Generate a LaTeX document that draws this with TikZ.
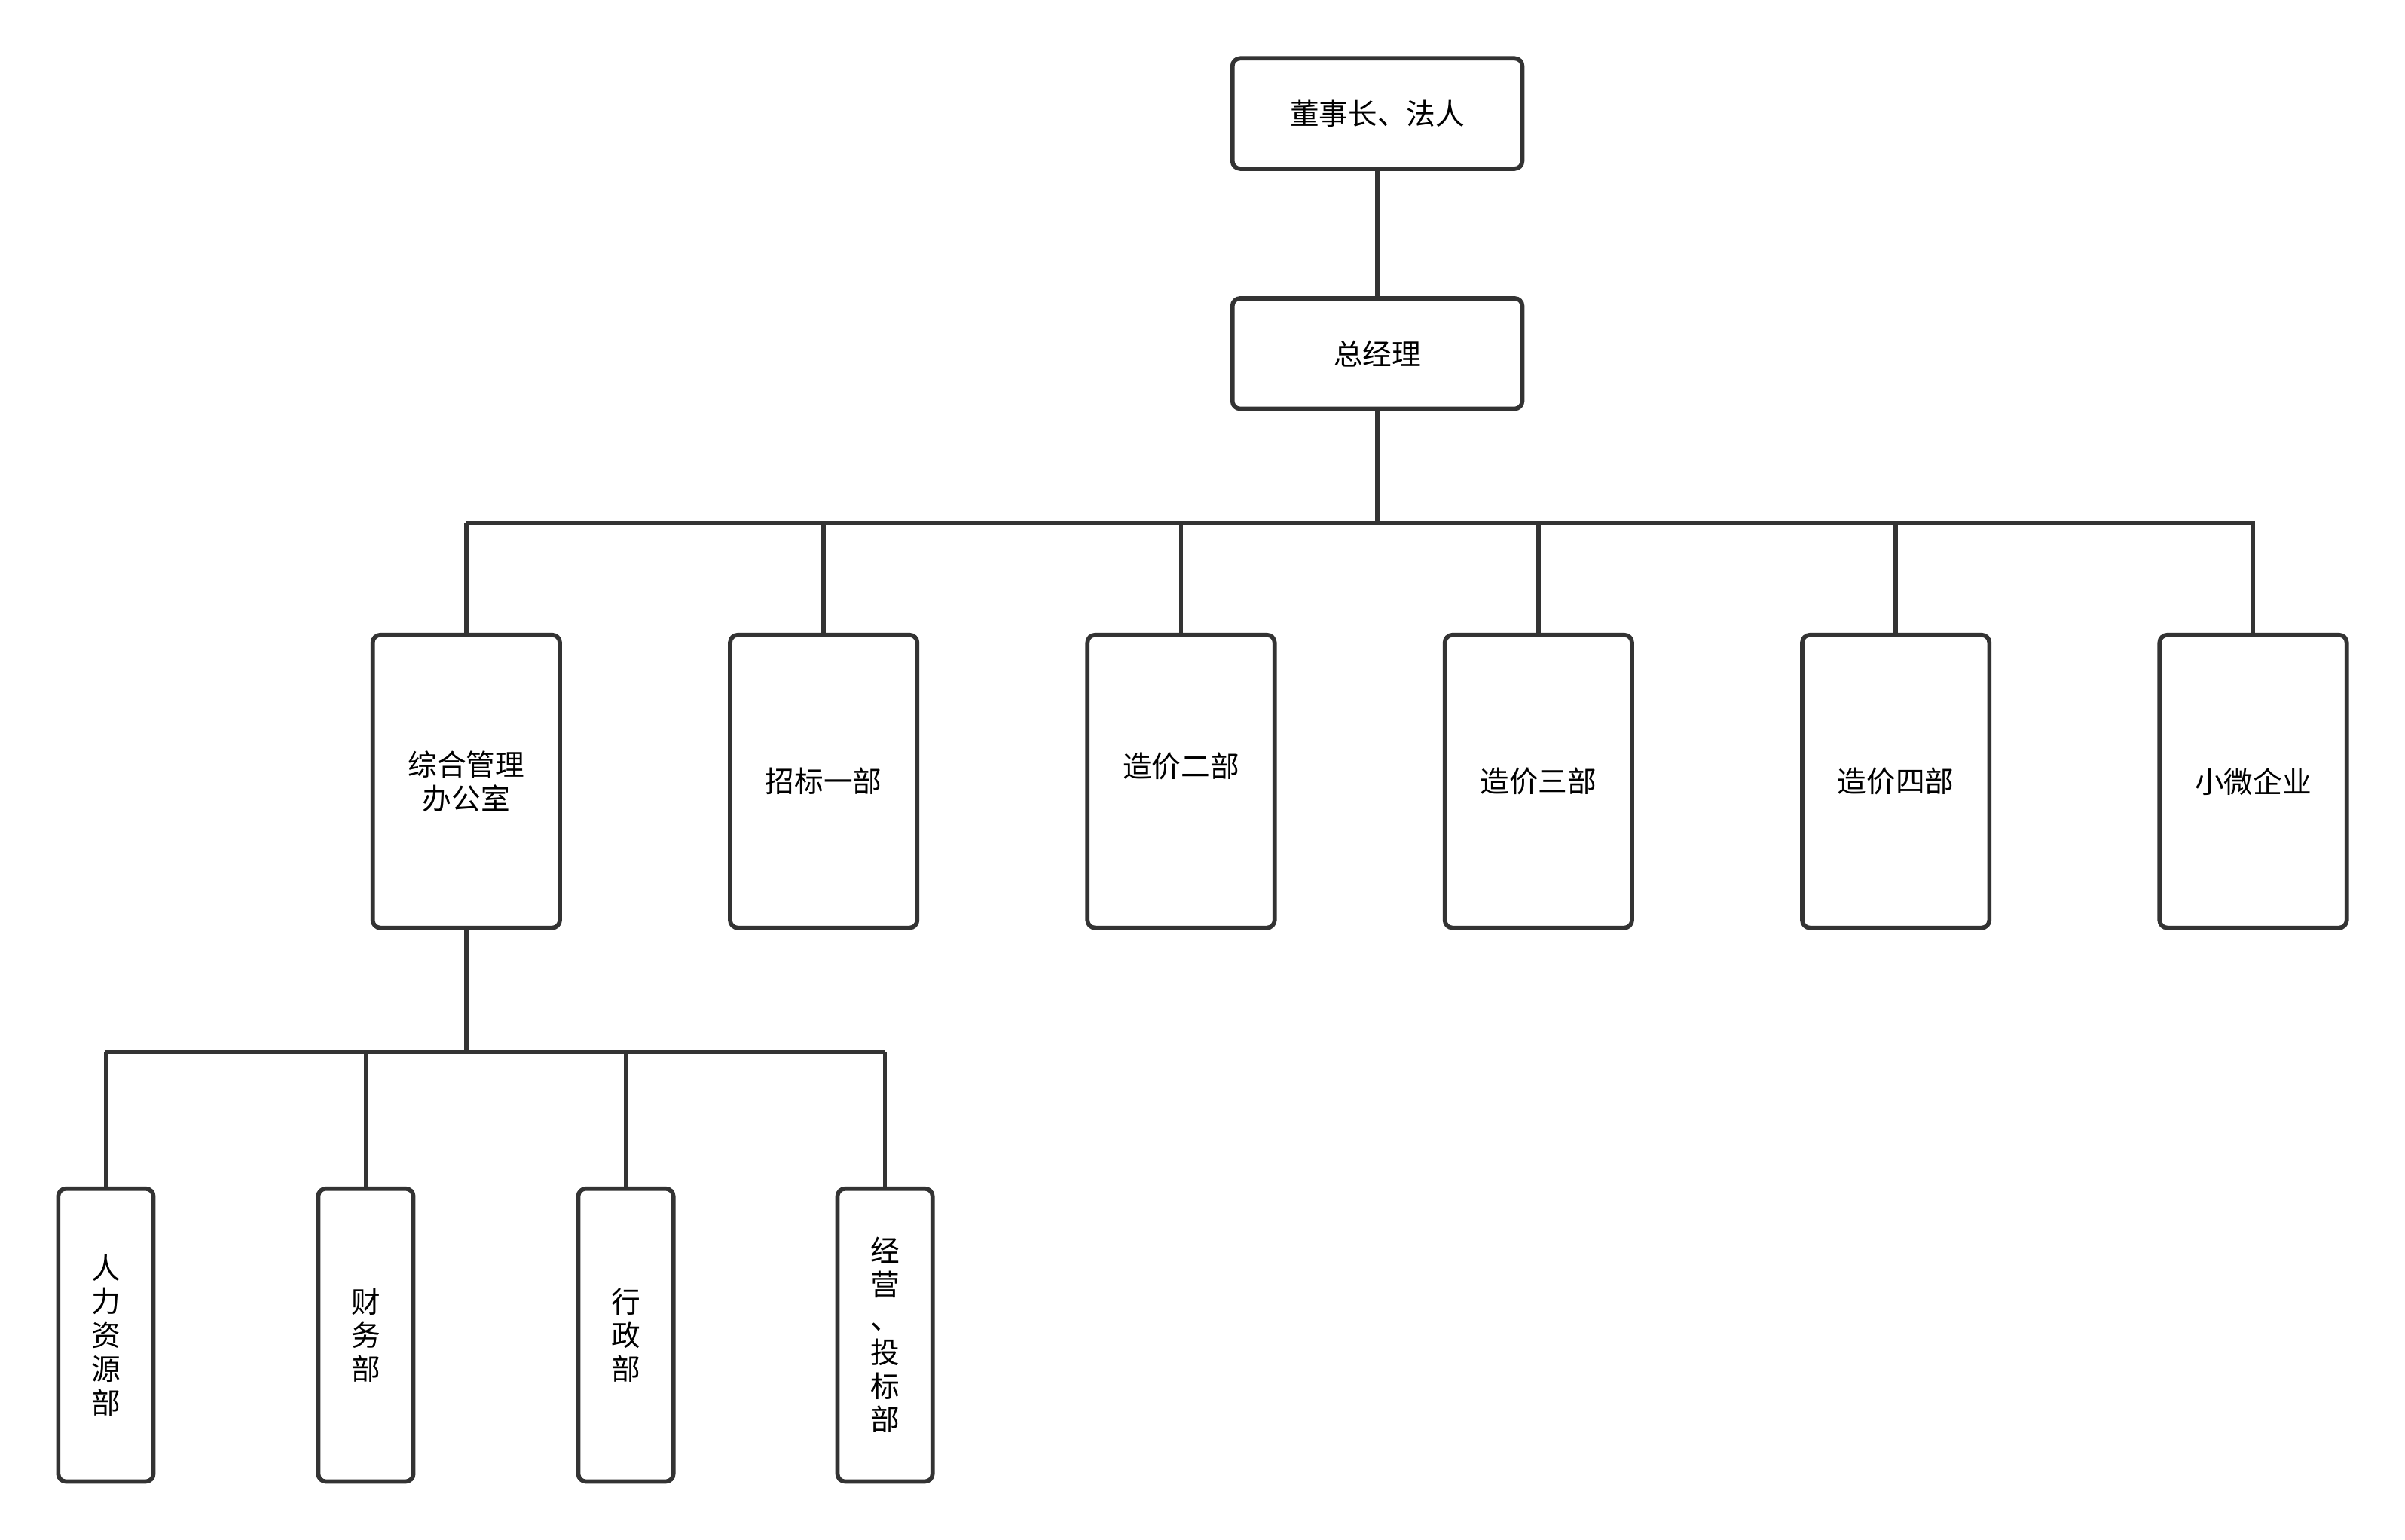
\documentclass[tikz,border=0pt]{standalone}
\usepackage{fontspec}
\newfontfamily\cjk{Noto Sans CJK SC}
\definecolor{linegray}{HTML}{333333}
\tikzset{
    box/.style={draw=linegray, line width=1.4pt, rounded corners=2.5pt, fill=white,
        align=center, inner sep=0pt, font=\cjk\fontsize{9.5}{11}\selectfont},
    topbox/.style={box, minimum width=94.5pt, minimum height=36pt},
    deptbox/.style={box, minimum width=61pt, minimum height=95.5pt},
    subbox/.style={box, minimum width=31pt, minimum height=95.5pt},
    link/.style={draw=linegray, line width=1.4pt}
}
\begin{document}
\begin{tikzpicture}[x=0.5pt, y=-0.5pt]
    \useasboundingbox (0,0) rectangle (1568,1004);
    \node[topbox] (chair) at (898,74) {董事长、法人};
    \node[topbox] (gm) at (898,230.5) {总经理};
    \node[deptbox] (d1) at (304,509.5) {综合管理\\办公室};
    \node[deptbox] (d2) at (537,509.5) {招标一部};
    \node[deptbox] (d3) at (770,509.5) {造价二部\\~};
    \node[deptbox] (d4) at (1003,509.5) {造价三部};
    \node[deptbox] (d5) at (1236,509.5) {造价四部};
    \node[deptbox] (d6) at (1469,509.5) {小微企业};
    \node[subbox] (s1) at (69,870.5) {人\\力\\资\\源\\部};
    \node[subbox] (s2) at (238.5,870.5) {财\\务\\部};
    \node[subbox] (s3) at (408,870.5) {行\\政\\部};
    \node[subbox] (s4) at (577,870.5) {经\\营\\、\\投\\标\\部};
    \coordinate (busL) at (304,341);
    \coordinate (busR) at (1470,341);
    \coordinate (subL) at (69,686);
    \coordinate (subR) at (577,686);
    \path (chair) edge[link] (gm);
    \path (gm) edge[link] (gm |- busL);
    \path (busL) edge[link] (busR);
    \path (d1) edge[link] (d1 |- busL);
    \path (d2) edge[link] (d2 |- busL);
    \path (d3) edge[link] (d3 |- busL);
    \path (d4) edge[link] (d4 |- busL);
    \path (d5) edge[link] (d5 |- busL);
    \path (d6) edge[link] (d6 |- busL);
    \path (d1) edge[link] (d1 |- subL);
    \path (subL) edge[link] (subR);
    \path (s1) edge[link] (s1 |- subL);
    \path (s2) edge[link] (s2 |- subL);
    \path (s3) edge[link] (s3 |- subL);
    \path (s4) edge[link] (s4 |- subL);
\end{tikzpicture}
\end{document}
